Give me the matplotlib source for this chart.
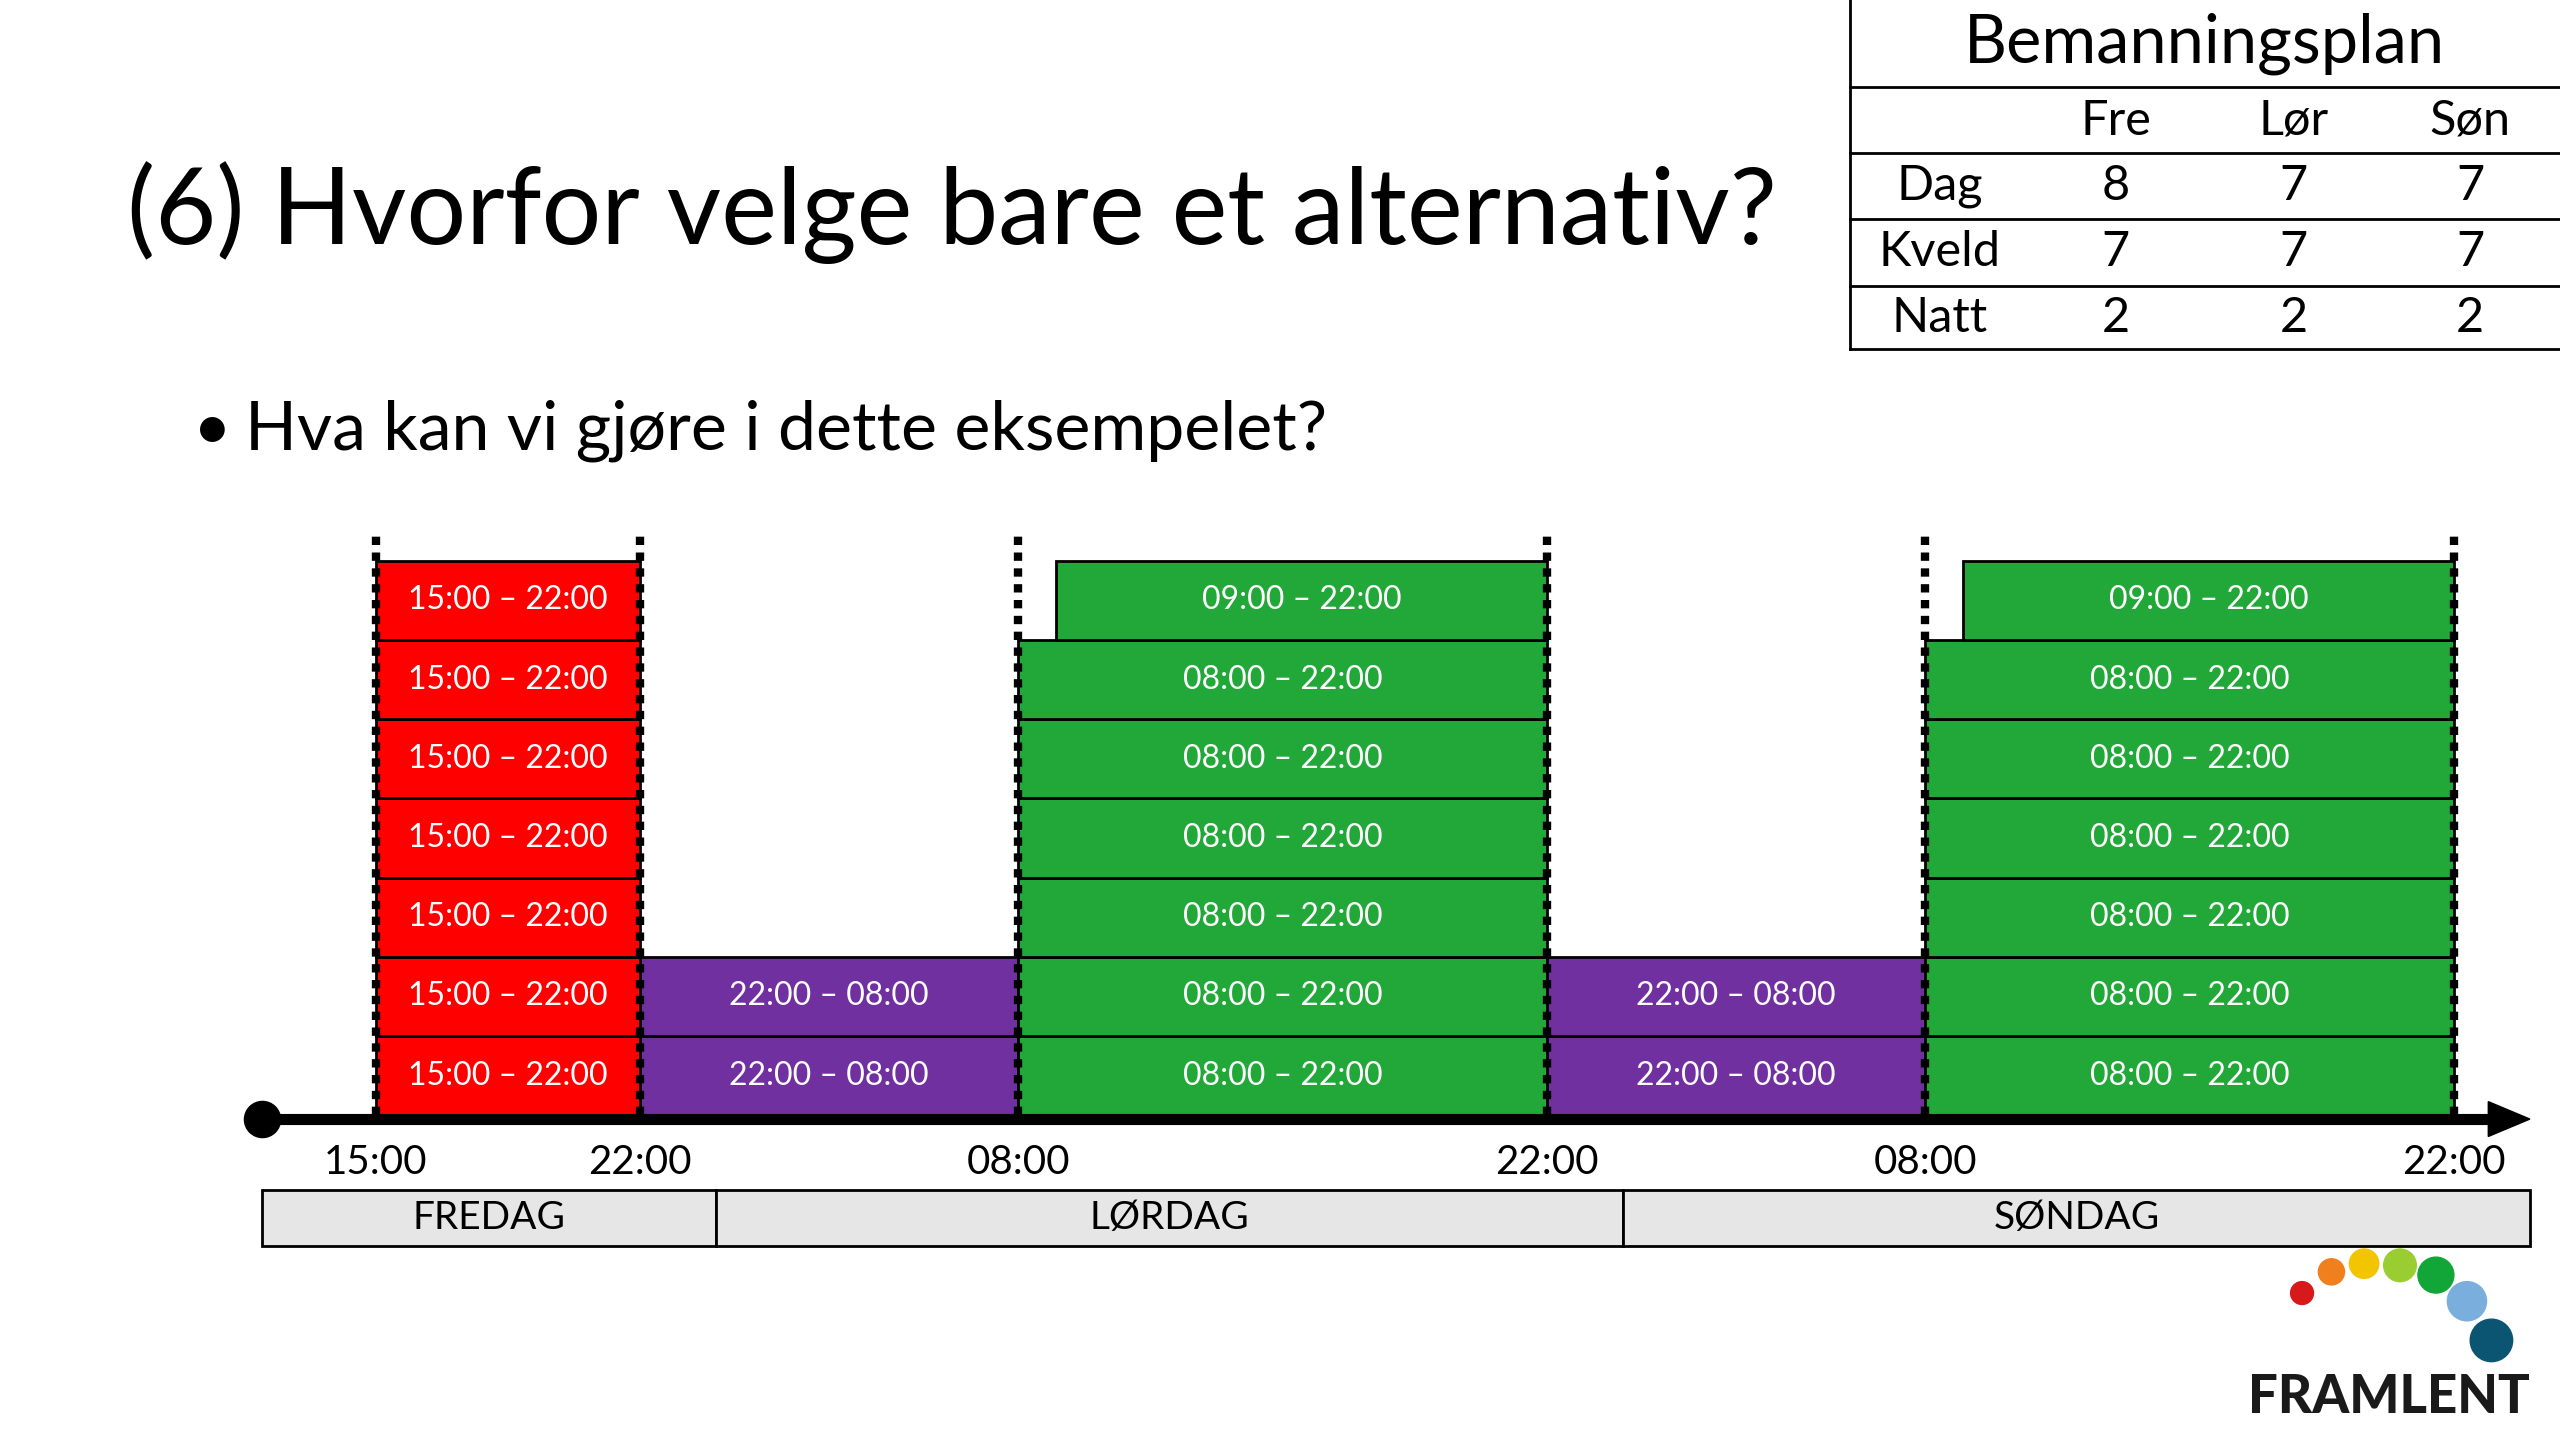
import matplotlib
matplotlib.use("Agg")
import matplotlib.pyplot as plt
from matplotlib.patches import Rectangle, Circle, Polygon

plt.rcParams['font.family'] = ['Lato', 'DejaVu Sans']

# ---- data ----
fri_shifts = [(15, 22)] * 7
fri_labels = ["15:00 – 22:00"] * 7
night1_shifts = [(22, 32)] * 2
night_labels = ["22:00 – 08:00"] * 2
sat_shifts = [(32, 46)] * 6 + [(33, 46)]
sat_labels = ["08:00 – 22:00"] * 6 + ["09:00 – 22:00"]
night2_shifts = [(46, 56)] * 2
sun_shifts = [(56, 70)] * 6 + [(57, 70)]
sun_labels = ["08:00 – 22:00"] * 6 + ["09:00 – 22:00"]
tick_hours = [15, 22, 32, 46, 56, 70]
tick_labels = ["15:00", "22:00", "08:00", "22:00", "08:00", "22:00"]
days = ["FREDAG", "LØRDAG", "SØNDAG"]
day_spans = [(12, 24), (24, 48), (48, 72)]
tbl_cols = ["Fre", "Lør", "Søn"]
tbl_rows = ["Dag", "Kveld", "Natt"]
tbl_vals = [[8, 7, 7], [7, 7, 7], [2, 2, 2]]

W, H = 1568, 882
fig = plt.figure(figsize=(25.6, 14.4), dpi=100)
fig.patch.set_facecolor("white")

def fx(px): return px / W
def fy(py): return 1 - py / H

pxh = 23.15
rowh = 48.5
ax = fig.add_axes([0, 0, 1, 1])
ax.set_xlim(15 - 230 / pxh, 15 + (W - 230) / pxh)
ax.set_ylim(-(H - 683) / rowh, 683 / rowh)
ax.axis("off")

def draw(shifts, labels, color):
    for i, ((a, b), lab) in enumerate(zip(shifts, labels)):
        ax.add_patch(Rectangle((a, i), b - a, 1, facecolor=color, edgecolor="black", lw=2, zorder=2))
        ax.text((a + b) / 2, i + 0.5, lab, color="white", ha="center", va="center", fontsize=23, zorder=3)

draw(fri_shifts, fri_labels, "#fe0000")
draw(night1_shifts, night_labels, "#7030a0")
draw(sat_shifts, sat_labels, "#22a838")
draw(night2_shifts, night_labels, "#7030a0")
draw(sun_shifts, sun_labels, "#22a838")

for h in tick_hours:
    ax.plot([h, h], [0, 7.38], color="black", lw=6, ls=(0, (1.0, 0.9)), zorder=4)

# timeline
ax.plot([12, 71.0], [-0.05, -0.05], color="black", lw=8, zorder=5, solid_capstyle="butt")
ax.plot([12], [-0.05], "o", color="black", ms=26, zorder=6)
ax.add_patch(Polygon([[70.9, 0.17], [72.0, -0.05], [70.9, -0.27]], closed=True, color="black", zorder=6))

for h, t in zip(tick_hours, tick_labels):
    ax.text(h, -0.6, t, ha="center", va="center", fontsize=29)

for d, (a, b) in zip(days, day_spans):
    ax.add_patch(Rectangle((a, -1.65), b - a, 0.7, facecolor="#e6e6e6", edgecolor="black", lw=2))
    ax.text((a + b) / 2, -1.3, d, ha="center", va="center", fontsize=28)

fig.text(fx(78), fy(130), "(6) Hvorfor velge bare et alternativ?", fontsize=76, va="center", ha="left")
fig.text(fx(118), fy(264), "•", fontsize=48, va="center", ha="left")
fig.text(fx(150), fy(264), "Hva kan vi gjøre i dette eksempelet?", fontsize=49, va="center", ha="left")

# table
lines_y = [53, 94, 134, 175, 214]
fig.add_artist(plt.Line2D([fx(1133), fx(1133)], [fy(0), fy(214)], color="black", lw=2))
for y in lines_y:
    fig.add_artist(plt.Line2D([fx(1133), fx(1568)], [fy(y), fy(y)], color="black", lw=2))
fig.text(fx(1350), fy(27), "Bemanningsplan", fontsize=48, ha="center", va="center")
col_x = [1296, 1405, 1513]
for c, x in zip(tbl_cols, col_x):
    fig.text(fx(x), fy(74), c, fontsize=35, ha="center", va="center")
for r, (lab, vals) in enumerate(zip(tbl_rows, tbl_vals)):
    yc = (lines_y[r + 1] + lines_y[r + 2]) / 2
    fig.text(fx(1188), fy(yc), lab, fontsize=35, ha="center", va="center")
    for v, x in zip(vals, col_x):
        fig.text(fx(x), fy(yc), str(v), fontsize=35, ha="center", va="center")

# logo
dots = [(1410, 792, 7, "#d7191c"), (1428, 779, 8, "#f07f1d"), (1448, 774, 9, "#f2c500"),
        (1470, 775, 10, "#9acd32"), (1492, 781, 11, "#11a637"), (1511, 797, 12, "#7aaedc"),
        (1526, 821, 13, "#0b5573")]
lax = fig.add_axes([0, 0, 1, 1], facecolor="none")
lax.set_xlim(0, W); lax.set_ylim(H, 0); lax.axis("off")
for x, y, r, c in dots:
    lax.add_patch(Circle((x, y), r, color=c))
lax.text(1463, 856, "FRAMLENT", fontsize=38, fontweight="black", ha="center", va="center", color="#1a1a1a")

fig.savefig("out.png", dpi=100)
